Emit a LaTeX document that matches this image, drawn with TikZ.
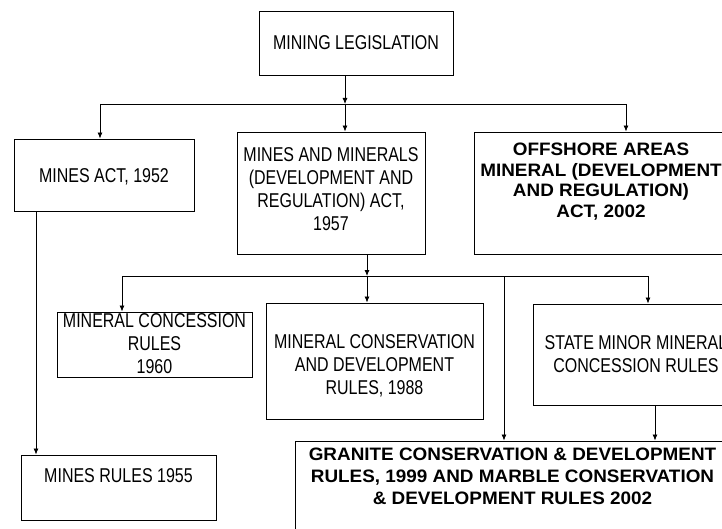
\documentclass[tikz,border=0pt]{standalone}
\usepackage{fontspec}
\setmainfont{Liberation Sans}
\newfontfamily\narrowfont[FakeStretch=0.8]{Liberation Sans}
\newfontfamily\widefont[FakeStretch=1.05]{Liberation Sans}
\usetikzlibrary{arrows.meta,positioning,calc}
\tikzset{
	law/.style={draw, line width=0.9pt, inner sep=0pt, align=center, font=\narrowfont\fontsize{20}{23}\selectfont},
	boldlaw/.style={law, font=\widefont\bfseries\fontsize{18}{20.5}\selectfont},
	feed/.style={line width=0.8pt, -{Latex[length=6pt,width=5pt]}},
	bus/.style={line width=0.8pt}
}

\begin{document}
\begin{tikzpicture}[x=1pt, y=-1pt]
			%%%%% START %%%%%
			\useasboundingbox (0, 0) rectangle (722, 529);
			\clip (0, 0) rectangle (722, 529);
			
			\node[law, minimum width=194pt, minimum height=64pt, text height=20pt, text depth=7.4pt] (legis) at (356, 43) {MINING LEGISLATION};
			
			\node[law, minimum width=180pt, minimum height=72pt, text height=20pt, text depth=5.4pt] (act52) at (104, 175) {MINES ACT, 1952};
			\node[law, minimum width=188pt, minimum height=122pt, text height=80pt, text depth=6pt] (mmdr) at (331, 193) {MINES AND MINERALS\\(DEVELOPMENT AND\\REGULATION) ACT,\\1957};
			\node[boldlaw, minimum width=254pt, minimum height=122pt, text height=60pt, text depth=11pt] (offshore) at (601, 193) {OFFSHORE AREAS\\MINERAL (DEVELOPMENT\\AND REGULATION)\\ACT, 2002};
			
			\node[law, minimum width=195pt, minimum height=65pt, text height=60pt, text depth=2.4pt] (conc60) at (154.5, 344.5) {MINERAL CONCESSION\\RULES\\1960};
			\node[law, minimum width=217pt, minimum height=116pt, text height=80pt, text depth=13.4pt] (cons88) at (374.5, 361) {MINERAL CONSERVATION\\AND DEVELOPMENT\\RULES, 1988};
			\node[law, minimum width=206pt, minimum height=101pt, text height=50pt, text depth=14.4pt] (state) at (636, 354.5) {STATE MINOR MINERAL\\CONCESSION RULES};
			
			\node[law, minimum width=195pt, minimum height=65pt, text height=0pt, text depth=10.4pt] (rules55) at (118.5, 487.5) {MINES RULES 1955};
			\node[boldlaw, font=\widefont\bfseries\fontsize{18}{22}\selectfont, minimum width=435pt, minimum height=99pt, text height=60pt, text depth=31.2pt] (granite) at (512.5, 490.5) {GRANITE CONSERVATION \& DEVELOPMENT\\RULES, 1999 AND MARBLE CONSERVATION\\\& DEVELOPMENT RULES 2002};
			
			% first level
			\coordinate (topbus) at (345, 104);
			\coordinate (busW) at (100, 104);
			\coordinate (busE) at (626, 104);
			\draw[bus] (busW) -- (busE);
			\draw[feed] (legis.south -| topbus) -- (topbus);
			\draw[feed] (topbus) -- (topbus |- mmdr.north);
			\draw[feed] (busW) -- (busW |- act52.north);
			\draw[feed] (busE) -- (busE |- offshore.north);
			
			% second level
			\coordinate (midbus) at (367, 276);
			\coordinate (busW2) at (122, 276);
			\coordinate (busE2) at (648, 276);
			\coordinate (tap) at (504, 276);
			\draw[feed] (mmdr.south -| midbus) -- (midbus);
			\draw[bus] (busW2) -- (busE2);
			\draw[feed] (busW2) -- (busW2 |- conc60.north);
			\draw[feed] (midbus) -- (midbus |- cons88.north);
			\draw[feed] (busE2) -- (busE2 |- state.north);
			\draw[feed] (tap) -- (tap |- granite.north);
			
			% drops
			\coordinate (stdrop) at (655, 405);
			\coordinate (actdrop) at (36, 211);
			\draw[feed] (state.south -| stdrop) -- (stdrop |- granite.north);
			\draw[feed] (act52.south -| actdrop) -- (actdrop |- rules55.north);
			%%%%% END %%%%%
\end{tikzpicture}
\end{document}
